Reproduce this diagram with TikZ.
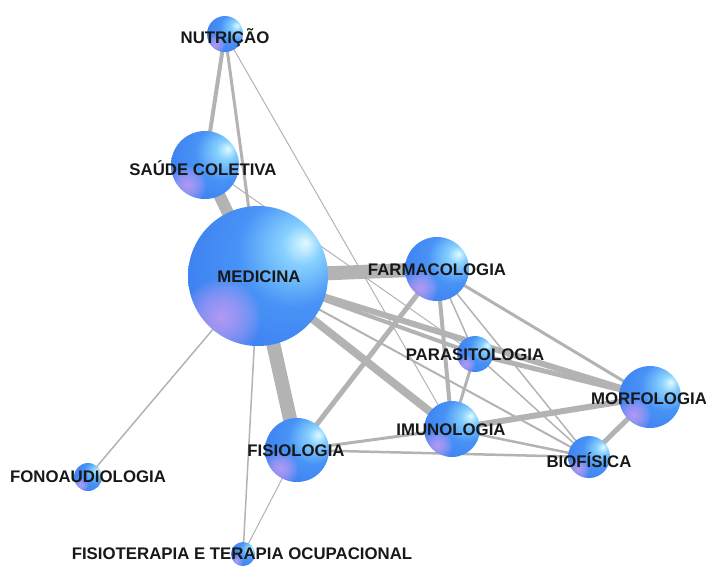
\documentclass[tikz,border=0pt]{standalone}
\usepackage{fontspec}
\setmainfont{Liberation Sans}

% palette
\definecolor{orbhi}{HTML}{E2FAFF}
\definecolor{orbmid}{HTML}{86D0FF}
\definecolor{orbbody}{HTML}{4893F6}
\definecolor{orbbodyb}{HTML}{3978EF}
\definecolor{orbrim}{HTML}{2A58DE}
\definecolor{orbpink}{HTML}{EDA8F8}
\definecolor{linkgray}{HTML}{B3B3B3}
\definecolor{tagink}{HTML}{181818}

% glossy sphere: highlight towards the upper right
\pgfdeclareradialshading{orbshade}{\pgfpoint{17bp}{12bp}}{%
  color(0bp)=(orbhi); color(7bp)=(orbmid); color(20bp)=(orbbody);
  color(44bp)=(orbbodyb); color(62bp)=(orbrim); color(80bp)=(orbrim)}

\tikzset{
  link/.style={draw=linkgray, line cap=butt},
  % sphere of the given radius, with a soft violet glow at its lower left
  orb/.style={circle, inner sep=0pt, minimum size=2*#1, shading=orbshade,
    path picture={
      \foreach \k in {1,...,12}{
        \fill[orbpink, opacity=0.085]
          ([xshift=-0.52*#1, yshift=-0.6*#1]path picture bounding box.center)
          circle[radius=\k/12*0.55*#1];
      }}},
  tag/.style={font=\fontsize{16.8}{18}\selectfont\bfseries, text=tagink, inner sep=0pt},
}

\begin{document}
\begin{tikzpicture}[x=1pt, y=-1pt]
\useasboundingbox (0,0) rectangle (706,565);
\clip (0,0) rectangle (706,565);

% centres of the disciplines
\coordinate (nut)    at (225,34);
\coordinate (sc)     at (205,165);
\coordinate (med)    at (258,276);
\coordinate (farm)   at (437,269);
\coordinate (para)   at (475,354);
\coordinate (morf)   at (650,397);
\coordinate (bio)    at (589,457);
\coordinate (imun)   at (452,429);
\coordinate (fisio)  at (297,450);
\coordinate (fono)   at (88,477);
\coordinate (fisiot) at (243,554);

% links, width by strength
\draw[link, line width=4pt]   (nut) -- (sc);
\draw[link, line width=3pt]   (nut) -- (med);
\draw[link, line width=1pt]   (nut) -- (imun);
\draw[link, line width=12pt]  (sc) -- (med);
\draw[link, line width=1pt]   (sc) -- (para);
\draw[link, line width=14pt]  (med) -- (farm);
\draw[link, line width=14pt]  (med) -- (fisio);
\draw[link, line width=8pt]   (med) -- (imun);
\draw[link, line width=6pt]   (med) -- (morf);
\draw[link, line width=4pt]   (med) -- (para);
\draw[link, line width=2pt]   (med) -- (bio);
\draw[link, line width=1.5pt] (med) -- (fono);
\draw[link, line width=1.5pt] (med) -- (fisiot);
\draw[link, line width=5pt]   (farm) -- (fisio);
\draw[link, line width=4pt]   (farm) -- (imun);
\draw[link, line width=1.5pt] (farm) -- (para);
\draw[link, line width=3pt]   (farm) -- (morf);
\draw[link, line width=1.5pt] (farm) -- (bio);
\draw[link, line width=3pt]   (para) -- (imun);
\draw[link, line width=5pt]   (para) -- (morf);
\draw[link, line width=1.5pt] (para) -- (bio);
\draw[link, line width=6pt]   (imun) -- (morf);
\draw[link, line width=2.5pt] (imun) -- (bio);
\draw[link, line width=3pt]   (imun) -- (fisio);
\draw[link, line width=2.5pt] (fisio) -- (bio);
\draw[link, line width=1pt]   (fisio) -- (fisiot);
\draw[link, line width=5pt]   (morf) -- (bio);

% spheres
\node[orb=18pt] (nut-orb)    at (nut) {};
\node[orb=34pt] (sc-orb)     at (sc) {};
\node[orb=70pt] (med-orb)    at (med) {};
\node[orb=32pt] (farm-orb)   at (farm) {};
\node[orb=18pt] (para-orb)   at (para) {};
\node[orb=31pt] (morf-orb)   at (morf) {};
\node[orb=21pt] (bio-orb)    at (bio) {};
\node[orb=28pt] (imun-orb)   at (imun) {};
\node[orb=32pt] (fisio-orb)  at (fisio) {};
\node[orb=14pt] (fono-orb)   at (fono) {};
\node[orb=12pt] (fisiot-orb) at (fisiot) {};

% labels
\node[tag] (nut-tag)    at (225,38)  {NUTRIÇÃO};
\node[tag] (sc-tag)     at (203,168) {SAÚDE COLETIVA};
\node[tag] (med-tag)    at (259,277) {MEDICINA};
\node[tag] (farm-tag)   at (437,270) {FARMACOLOGIA};
\node[tag] (para-tag)   at (475,355) {PARASITOLOGIA};
\node[tag] (morf-tag)   at (649,399) {MORFOLOGIA};
\node[tag] (bio-tag)    at (589,460) {BIOFÍSICA};
\node[tag] (imun-tag)   at (451,430) {IMUNOLOGIA};
\node[tag] (fisio-tag)  at (296,451) {FISIOLOGIA};
\node[tag] (fono-tag)   at (88,477)  {FONOAUDIOLOGIA};
\node[tag] (fisiot-tag) at (242,554) {FISIOTERAPIA E TERAPIA OCUPACIONAL};
\end{tikzpicture}
\end{document}
